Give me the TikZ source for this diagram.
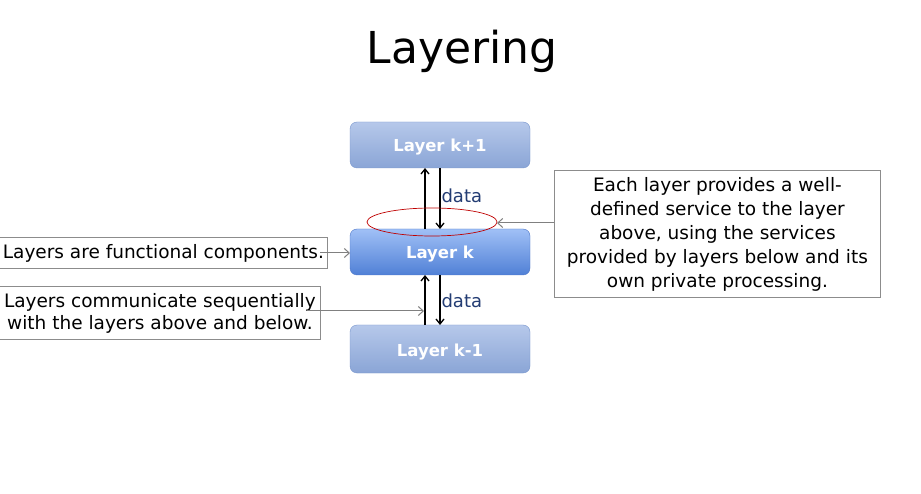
\documentclass[tikz,border=0pt]{standalone}
\usepackage{fontspec}
\setmainfont{DejaVu Sans}
\usetikzlibrary{arrows.meta}
\begin{document}
\begin{tikzpicture}[x=1pt,y=-1pt,
  layerlabel/.style={text=white, font=\bfseries\fontsize{16.5}{20}\selectfont},
  note/.style={draw=black!45, line width=0.8pt, fill=white, text=black,
    font=\fontsize{18.5}{22}\selectfont, inner sep=0pt, align=center},
  flow/.style={line width=1.3pt, -{Straight Barb[length=5pt,width=8pt]}},
  pointer/.style={draw=black!50, line width=1pt, -{Straight Barb[length=5pt,width=9pt]}},
  datalabel/.style={text={rgb,255:red,35;green,60;blue,115}, font=\fontsize{18}{20}\selectfont}]
\useasboundingbox (0,0) rectangle (921,494);
\fill[white] (0,0) rectangle (921,494);

\node (title) at (462,51) {\fontsize{44}{50}\selectfont Layering};

% layer boxes
\shade[top color={rgb,255:red,182;green,200;blue,234}, bottom color={rgb,255:red,138;green,165;blue,214},
  draw={rgb,255:red,120;green,150;blue,205}, rounded corners=7pt] (350,122) rectangle (530,168);
\node[layerlabel] (up) at (440,147) {Layer k+1};
\shade[top color={rgb,255:red,160;green,192;blue,246}, bottom color={rgb,255:red,80;green,128;blue,214},
  draw={rgb,255:red,80;green,120;blue,200}, rounded corners=7pt] (350,229) rectangle (530,275);
\node[layerlabel] (mid) at (440,254) {Layer k};
\shade[top color={rgb,255:red,182;green,200;blue,234}, bottom color={rgb,255:red,138;green,165;blue,214},
  draw={rgb,255:red,120;green,150;blue,205}, rounded corners=7pt] (350,325) rectangle (530,373);
\node[layerlabel] (low) at (440,352) {Layer k-1};
\coordinate (midwest) at (350,253);

% data flow between layers
\coordinate (a1) at (425,229); \coordinate (a2) at (425,168);
\coordinate (b1) at (440,168); \coordinate (b2) at (440,229);
\draw[flow] (a1) -- (a2);
\draw[flow] (b1) -- (b2);
\coordinate (c1) at (425,325); \coordinate (c2) at (425,275);
\coordinate (d1) at (440,275); \coordinate (d2) at (440,325);
\draw[flow] (c1) -- (c2);
\draw[flow] (d1) -- (d2);
\node[datalabel, anchor=west] (data1) at (438,196) {data};
\node[datalabel, anchor=west] (data2) at (438,301) {data};

% interface between layer k and layer k+1
\draw[red!75!black, line width=0.7pt] (432,222) ellipse [x radius=65, y radius=14];
\coordinate (iface) at (497,223);

% annotations
\node[note, anchor=west, minimum height=31pt, minimum width=328pt] (n1) at (-1,253) {Layers are functional components.};
\node[note, anchor=north west, minimum height=53pt, minimum width=321pt] (n2) at (-1,286) {Layers communicate sequentially\\with the layers above and below.};
\node[note, anchor=north west, minimum height=127pt, minimum width=326pt, font=\fontsize{18.5}{24}\selectfont] (n3) at (554,170)
  {Each layer provides a well-\\defined service to the layer\\above, using the services\\provided by layers below and its\\own private processing.};

\coordinate (p1) at (320,253);
\coordinate (p2) at (307,311);
\coordinate (p3) at (424,311);
\draw[pointer] (p1) -- (midwest);
\draw[pointer] (p2) -- (p3);
\draw[pointer] (n3.west |- iface) -- (iface);
\end{tikzpicture}
\end{document}
